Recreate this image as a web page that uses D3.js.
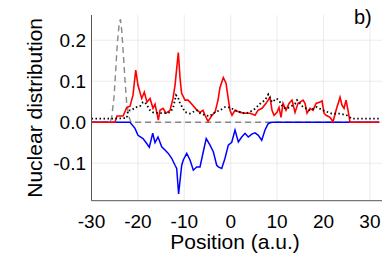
<!DOCTYPE html>
<html>
<head>
<meta charset="utf-8">
<script src="https://cdn.jsdelivr.net/npm/d3@7"></script>
<style>
  body { margin: 0; background: #fff; }
  text { font-family: "Liberation Sans", Arial, sans-serif; }
</style>
</head>
<body>
<script>
var xTicks = [-30, -20, -10, 0, 10, 20, 30]
var yTicks = [-0.1, 0.0, 0.1, 0.2]

// [position, value]
var gaussian = [[-30, 0], [-26.0, 0], [-25.65, 0.012], [-25.15, 0.061], [-24.78, 0.127], [-24.44, 0.192],
  [-24.0, 0.244], [-23.75, 0.251], [-23.49, 0.224], [-23.15, 0.168], [-22.78, 0.102], [-22.41, 0.046],
  [-21.92, 0.013], [-21.49, 0], [32, 0]]

var positive = [[-30, 0], [-24.94, 0], [-24.5, 0.015], [-23.2, 0.015], [-22.4, 0.036], [-21.7, 0.039],
  [-21.06, 0.066], [-20.47, 0.127], [-19.98, 0.09], [-19.18, 0.058], [-18.62, 0.073], [-18.04, 0.049],
  [-17.39, 0.058], [-16.75, 0.034], [-16.31, 0.044], [-15.6, 0.005], [-15.24, 0.029], [-14.59, 0.034],
  [-13.94, 0.022], [-13.08, 0.029], [-12.44, 0.058], [-12.0, 0.09], [-11.57, 0.139], [-11.29, 0.170],
  [-10.93, 0.109], [-10.6, 0.071], [-9.85, 0.054], [-9.2, 0.054], [-8.77, 0.049], [-8.13, 0.041],
  [-7.26, 0.029], [-6.62, 0.024], [-5.97, 0.029], [-5.54, 0.017], [-4.89, 0.002], [-4.03, 0.017],
  [-3.38, 0.024], [-2.74, 0.054], [-2.31, 0.085], [-1.59, 0.109], [-1.01, 0.095], [-0.58, 0.061],
  [-0.15, 0.029], [0.28, 0.017], [0.93, 0.029], [2.0, 0.024], [3.08, 0.022], [4.16, 0.022],
  [5.24, 0.017], [5.88, 0.029], [6.75, 0.034], [7.61, 0.046], [8.47, 0.061], [8.9, 0.029],
  [9.33, 0.017], [9.98, 0.024], [10.41, 0.036], [10.84, 0.012], [11.27, 0.046], [11.92, 0.029],
  [12.56, 0.046], [13.21, 0.054], [13.86, 0.024], [14.5, 0.046], [14.94, 0.049], [15.58, 0.054],
  [16.01, 0.046], [16.44, 0.022], [17.09, 0.034], [17.74, 0.029], [18.39, 0.046], [19.25, 0.049],
  [19.68, 0.052], [20.11, 0.022], [20.54, 0.017], [21.4, 0.012], [22.05, 0.001], [22.7, 0.029],
  [23.56, 0.061], [23.99, 0.041], [24.42, 0.034], [24.85, 0.054], [25.28, 0.029], [25.71, 0], [32, 0]]

var negative = [[-30, 0], [-21.7, 0], [-20.63, -0.015], [-19.98, -0.032], [-18.9, -0.040], [-18.1, -0.052],
  [-17.54, -0.061], [-16.81, -0.027], [-16.31, -0.050], [-15.67, -0.036], [-14.87, -0.060], [-14.16, -0.068],
  [-13.45, -0.076], [-12.72, -0.088], [-12.0, -0.105], [-11.64, -0.113], [-11.23, -0.175], [-10.56, -0.105],
  [-10.22, -0.092], [-9.48, -0.076], [-8.77, -0.092], [-8.06, -0.117], [-7.33, -0.109], [-6.62, -0.109],
  [-5.91, -0.072], [-5.28, -0.040], [-4.46, -0.056], [-3.75, -0.072], [-3.02, -0.105], [-2.67, -0.109],
  [-1.94, -0.113], [-1.23, -0.088], [-0.52, -0.056], [0.22, -0.049], [0.93, -0.019], [1.64, -0.048],
  [2.37, -0.036], [3.08, -0.027], [3.79, -0.036], [4.53, -0.029], [5.24, -0.026], [5.95, -0.032],
  [6.68, -0.044], [7.39, -0.019], [8.1, -0.003], [8.84, 0], [32, 0]]

var total = [[-30, 0.009], [-25.37, 0.009], [-22.41, 0.010], [-22.13, 0.029], [-21.34, 0.029], [-20.63, 0.036],
  [-19.55, 0.039], [-18.9, 0.049], [-18.47, 0.049], [-17.82, 0.037], [-17.39, 0.029], [-16.75, 0.024],
  [-15.24, 0.022], [-14.16, 0.022], [-13.08, 0.024], [-12.44, 0.034], [-11.79, 0.066], [-11.36, 0.061],
  [-10.93, 0.046], [-10.28, 0.034], [-9.85, 0.025], [-8.77, 0.021], [-8.13, 0.025], [-7.26, 0.029],
  [-6.62, 0.022], [-5.54, 0.017], [-4.46, 0.015], [-3.38, 0.025], [-2.31, 0.029], [-1.23, 0.037],
  [-0.15, 0.036], [0.93, 0.029], [2.0, 0.025], [3.08, 0.021], [4.16, 0.025], [5.24, 0.033],
  [6.32, 0.045], [7.4, 0.054], [8.1, 0.068], [8.9, 0.049], [9.91, 0.058], [10.63, 0.049],
  [11.27, 0.037], [11.92, 0.033], [12.78, 0.037], [13.86, 0.045], [14.29, 0.054], [15.58, 0.037],
  [17.09, 0.029], [18.53, 0.037], [19.89, 0.029], [21.77, 0.021], [23.56, 0.021], [25.0, 0.017],
  [26.08, 0.009], [32, 0.009]]

var W = 382, H = 254
var plotLeft = 91.5, plotRight = 382, plotTop = 15, plotBottom = 200.7

var svg = d3.select("body").append("svg")
  .attr("width", W)
  .attr("height", H)

var x = d3.scaleLinear()
  .domain([-30, 32.6])
  .range([plotLeft, plotRight])

var y = d3.scaleLinear()
  .domain([-0.1915, 0.2616])
  .range([plotBottom, plotTop])

// grid
svg.append("g")
  .selectAll("line")
  .data(xTicks)
  .enter().append("line")
  .attr("x1", function (d) { return x(d) })
  .attr("x2", function (d) { return x(d) })
  .attr("y1", plotTop)
  .attr("y2", plotBottom)
  .attr("stroke", "#e6e6e6")
  .attr("stroke-width", 0.8)
svg.append("g")
  .selectAll("line")
  .data(yTicks)
  .enter().append("line")
  .attr("x1", plotLeft)
  .attr("x2", plotRight)
  .attr("y1", function (d) { return y(d) })
  .attr("y2", function (d) { return y(d) })
  .attr("stroke", "#e6e6e6")
  .attr("stroke-width", 0.8)

var line = d3.line()
  .x(function (d) { return x(d[0]) })
  .y(function (d) { return y(d[1]) })

svg.append("path").datum(gaussian)
  .attr("d", line)
  .attr("fill", "none")
  .attr("stroke", "#888")
  .attr("stroke-width", 1.4)
  .attr("stroke-dasharray", "6,4")

svg.append("path").datum(negative)
  .attr("d", line)
  .attr("fill", "none")
  .attr("stroke", "#0000ff")
  .attr("stroke-width", 1.5)

svg.append("path").datum(positive)
  .attr("d", line)
  .attr("fill", "none")
  .attr("stroke", "#ff0000")
  .attr("stroke-width", 1.6)

svg.append("path").datum(total)
  .attr("d", line)
  .attr("fill", "none")
  .attr("stroke", "#000")
  .attr("stroke-width", 1.8)
  .attr("stroke-dasharray", "1.5,2.5")

// spines
svg.append("line")
  .attr("x1", plotLeft).attr("x2", plotLeft)
  .attr("y1", plotTop).attr("y2", plotBottom)
  .attr("stroke", "#555")
svg.append("line")
  .attr("x1", plotLeft).attr("x2", plotRight)
  .attr("y1", plotBottom).attr("y2", plotBottom)
  .attr("stroke", "#555")

// tick labels
svg.append("g")
  .selectAll("text")
  .data(xTicks)
  .enter().append("text")
  .attr("x", function (d) { return x(d) })
  .attr("y", 228)
  .attr("text-anchor", "middle")
  .attr("font-size", 19)
  .text(function (d) { return d })
svg.append("g")
  .selectAll("text")
  .data(yTicks)
  .enter().append("text")
  .attr("x", 86)
  .attr("y", function (d) { return y(d) + 7 })
  .attr("text-anchor", "end")
  .attr("font-size", 19)
  .text(function (d) { return d.toFixed(1) })

svg.append("text")
  .attr("x", 235)
  .attr("y", 249)
  .attr("text-anchor", "middle")
  .attr("font-size", 21)
  .text("Position (a.u.)")

svg.append("text")
  .attr("transform", "translate(42," + ((plotTop + plotBottom) / 2) + ") rotate(-90)")
  .attr("text-anchor", "middle")
  .attr("font-size", 21)
  .text("Nuclear distribution")

svg.append("text")
  .attr("x", 354)
  .attr("y", 24)
  .attr("font-size", 20)
  .text("b)")
</script>
</body>
</html>
